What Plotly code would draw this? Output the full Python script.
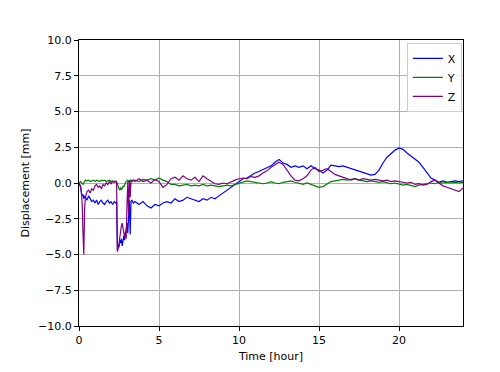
import plotly.graph_objects as go

# ---- data -------------------------------------------------------------
# dense section around the start-up spikes (hours)
hours_a = [0.0, 0.05, 0.1, 0.15, 0.2, 0.25, 0.3, 0.35, 0.4, 0.5, 0.6, 0.7, 0.8, 0.9,
           1.0, 1.1, 1.2, 1.3, 1.4, 1.5, 1.6, 1.7, 1.8, 1.9, 2.0, 2.1, 2.2, 2.3,
           2.35, 2.4, 2.45, 2.5, 2.55, 2.6, 2.65, 2.7, 2.75, 2.8, 2.85, 2.9, 2.95,
           3.0, 3.05, 3.1, 3.15, 3.2, 3.25, 3.3, 3.4]
x_a = [0.0, -0.1, -0.3, -0.7, -0.9, -0.8, -1.1, -0.9, -1.0, -1.2, -0.9, -1.1, -1.3, -1.2,
       -1.4, -1.2, -1.5, -1.3, -1.2, -1.4, -1.5, -1.3, -1.2, -1.4, -1.3, -1.5, -1.3, -1.4,
       -1.3, -4.7, -4.3, -4.5, -4.0, -4.2, -3.9, -4.4, -4.1, -3.7, -4.0, -3.6, -3.2,
       -2.8, -3.5, -2.5, -1.2, -3.6, -1.3, -1.2, -1.4]
y_a = [0.0, 0.05, 0.1, 0.05, 0.0, -0.1, 0.0, 0.1, 0.2, 0.15, 0.2, 0.1, 0.15, 0.2,
       0.1, 0.2, 0.15, 0.1, 0.2, 0.15, 0.2, 0.1, 0.15, 0.2, 0.1, 0.15, 0.1, 0.15,
       0.1, -0.1, -0.3, -0.4, -0.5, -0.3, -0.5, -0.4, -0.2, -0.3, -0.1, 0.0, 0.1,
       0.15, 0.2, 0.1, 0.15, 0.2, 0.1, 0.2, 0.15]
z_a = [0.0, -0.1, -0.2, -0.6, -1.5, -3.5, -5.0, -1.8, -1.0, -0.6, -0.5, -0.7, -0.4, -0.5,
       -0.2, -0.1, -0.3, -0.2, -0.4, -0.1, -0.2, 0.0, -0.1, 0.1, -0.05, 0.1, 0.05, 0.1,
       0.0, -4.8, -4.6, -4.3, -3.8, -3.3, -3.0, -2.8, -3.1, -3.5, -3.8, -3.4, -3.9,
       -1.5, 0.1, -2.2, 0.2, -1.0, 0.15, 0.1, 0.2]

# regular section, every 0.25 hour from 3.5 to 24.0
x_b = [-1.3, -1.5,
       -1.3, -1.6, -1.75, -1.5,
       -1.6, -1.4, -1.3, -1.4,
       -1.1, -1.3, -1.2, -1.0,
       -1.1, -1.2, -1.3, -1.1,
       -1.2, -1.0, -1.1, -0.9,
       -0.7, -0.5, -0.3, -0.1,
       0.1, 0.3, 0.35, 0.55,
       0.7, 0.8, 0.95, 1.05,
       1.2, 1.45, 1.65, 1.4,
       1.3, 1.1, 1.2, 1.1,
       1.2, 1.0, 1.2, 1.0,
       0.9, 0.7, 0.9, 1.25,
       1.2, 1.15, 1.2, 1.1,
       1.0, 0.9, 0.8, 0.7,
       0.6, 0.55, 0.6, 0.9,
       1.4, 1.8, 2.05, 2.3,
       2.45, 2.35, 2.1, 1.9,
       1.65, 1.45, 1.1, 0.7,
       0.35, 0.2, 0.05, 0.15,
       0.05, 0.1, 0.15, 0.1,
       0.15]
y_b = [0.2, 0.1,
       0.25, 0.2, 0.3, 0.2,
       0.35, 0.2, 0.1, -0.1,
       -0.1, -0.2, -0.15, -0.1,
       -0.2, -0.15, -0.2, -0.1,
       -0.2, -0.15, -0.2, -0.25,
       -0.2, -0.15, -0.2, -0.1,
       0.0, 0.1, 0.15, 0.1,
       0.05, 0.0, -0.05, 0.0,
       0.1, 0.0, -0.05, 0.05,
       0.1, 0.15, 0.05, -0.05,
       -0.1, 0.0, -0.1, -0.2,
       -0.3, -0.25, -0.1, 0.1,
       0.15, 0.2, 0.25, 0.2,
       0.25, 0.3, 0.2, 0.15,
       0.1, 0.15, 0.1, 0.05,
       0.1, 0.0, -0.05, 0.0,
       -0.1, -0.15, -0.1, -0.2,
       -0.25, -0.15, -0.1, -0.05,
       0.0, -0.05, 0.05, 0.0,
       0.05, 0.0, 0.05, 0.0,
       0.05]
z_b = [0.1, 0.3,
       0.1, 0.2, 0.0, 0.25,
       0.1, -0.3, -0.1, 0.3,
       0.4, 0.2, 0.5, 0.3,
       0.2, 0.4, 0.1, 0.5,
       0.3, 0.1, -0.05, -0.1,
       0.0, -0.05, 0.1, 0.2,
       0.3, 0.35, 0.3, 0.45,
       0.4, 0.5, 0.7, 0.85,
       1.1, 1.3, 1.45, 1.3,
       0.9, 0.5, 0.2, 0.15,
       0.3, 0.5, 0.9, 1.1,
       0.8, 0.9, 1.0, 0.8,
       0.6, 0.5, 0.4, 0.35,
       0.2, 0.3, 0.2, 0.3,
       0.25, 0.2, 0.25, 0.2,
       0.15, 0.2, 0.1, 0.15,
       0.1, 0.05, 0.0, 0.05,
       -0.1, -0.05, -0.15, -0.1,
       0.1, 0.2, 0.0, -0.2,
       -0.3, -0.4, -0.55, -0.6,
       -0.35]
hours_b = [3.5 + 0.25 * i for i in range(len(x_b))]

assert len(x_a) == len(y_a) == len(z_a) == len(hours_a)
assert len(x_b) == len(y_b) == len(z_b)

hours = hours_a + hours_b
disp_x = x_a + x_b
disp_y = y_a + y_b
disp_z = z_a + z_b

series_names = ["X", "Y", "Z"]
series_colors = ["#0000ff", "#008000", "#800080"]
x_ticks = [0, 5, 10, 15, 20]
y_ticks = [10.0, 7.5, 5.0, 2.5, 0.0, -2.5, -5.0, -7.5, -10.0]

# ---- figure -----------------------------------------------------------
fig = go.Figure()
for name, vals, col in zip(series_names, [disp_x, disp_y, disp_z], series_colors):
    fig.add_trace(go.Scatter(x=hours, y=vals, mode="lines", name=name,
                             line=dict(color=col, width=1.2)))

axis_common = dict(showline=True, linecolor="black", linewidth=1, mirror=True,
                   ticks="outside", ticklen=4, tickcolor="black",
                   showgrid=True, gridcolor="#b0b0b0", gridwidth=0.8,
                   zeroline=False, tickfont=dict(size=11, color="black"))

# margins compensate for the page's 8px body margin
fig.update_layout(
    width=500, height=372,
    margin=dict(l=71, r=45, t=32, b=54),
    paper_bgcolor="white", plot_bgcolor="white",
    font=dict(family="DejaVu Sans", size=11, color="black"),
    xaxis=dict(range=[0, 24], tickvals=x_ticks,
               title=dict(text="Time [hour]", font=dict(size=11), standoff=6),
               **axis_common),
    yaxis=dict(range=[-10, 10], tickvals=y_ticks, tickformat=".1f",
               title=dict(text="Displacement [mm]", font=dict(size=11), standoff=6),
               **axis_common),
    legend=dict(x=0.997, y=0.99, xanchor="right", yanchor="top",
                bgcolor="white", bordercolor="#cccccc", borderwidth=1,
                font=dict(size=11), itemwidth=30),
    showlegend=True,
)

fig.write_html("out.html")
